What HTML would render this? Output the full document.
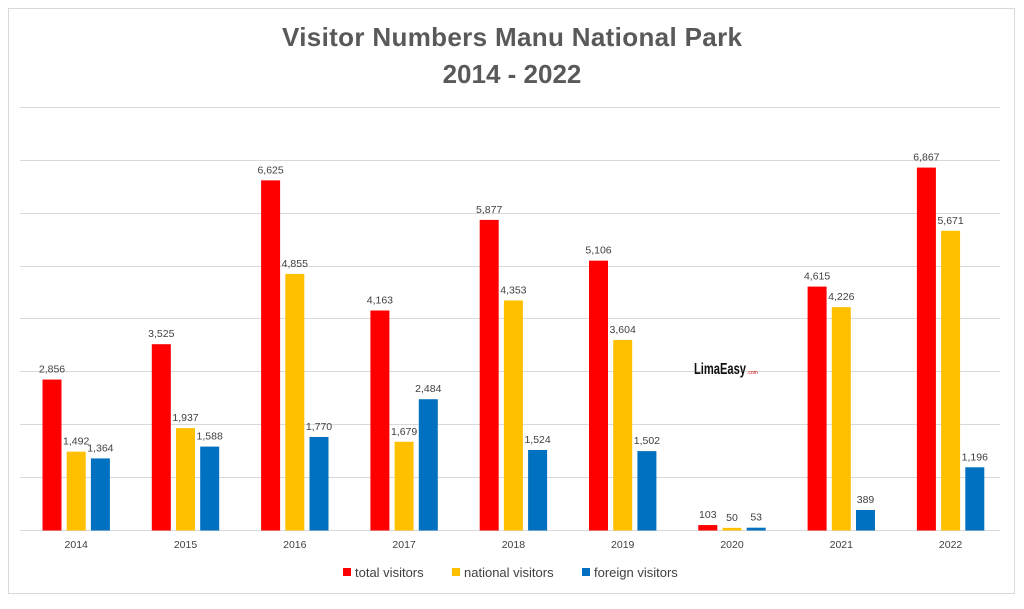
<!DOCTYPE html><html><head><style>body{margin:0;background:#fff}</style></head><body>
<svg width="1024" height="604" xmlns="http://www.w3.org/2000/svg" font-family="Liberation Sans, sans-serif">
<rect x="8.5" y="8.5" width="1006" height="585" fill="#fff" stroke="#d9d9d9"/>
<text x="512" y="46" text-anchor="middle" font-size="26" font-weight="bold" fill="#595959" textLength="460">Visitor Numbers Manu National Park</text>
<text x="512" y="83" text-anchor="middle" font-size="26" font-weight="bold" fill="#595959">2014 - 2022</text>
<g stroke="#d9d9d9" stroke-width="1">
<line x1="20" x2="1000" y1="107.5" y2="107.5"/><line x1="20" x2="1000" y1="160.5" y2="160.5"/><line x1="20" x2="1000" y1="213.5" y2="213.5"/><line x1="20" x2="1000" y1="266.5" y2="266.5"/><line x1="20" x2="1000" y1="318.5" y2="318.5"/><line x1="20" x2="1000" y1="371.5" y2="371.5"/><line x1="20" x2="1000" y1="424.5" y2="424.5"/><line x1="20" x2="1000" y1="477.5" y2="477.5"/><line x1="20" x2="1000" y1="530.5" y2="530.5"/>
</g>
<g id="bars" font-size="10.5" fill="#404040" text-anchor="middle"></g>
<text x="694" y="374" font-size="16" font-weight="bold" fill="#111" textLength="52" lengthAdjust="spacingAndGlyphs">LimaEasy</text>
<text x="747" y="374" font-size="5" fill="#c00">.com</text>
<g font-size="13" fill="#404040">
<rect x="343" y="568" width="8" height="8" fill="#ff0000"/><text x="355" y="577">total visitors</text>
<rect x="452" y="568" width="8" height="8" fill="#ffc000"/><text x="464" y="577">national visitors</text>
<rect x="582" y="568" width="8" height="8" fill="#0070c0"/><text x="594" y="577">foreign visitors</text>
</g>
</svg>
<script>
var d=[[2014,2856,1492,1364],[2015,3525,1937,1588],[2016,6625,4855,1770],[2017,4163,1679,2484],[2018,5877,4353,1524],[2019,5106,3604,1502],[2020,103,50,53],[2021,4615,4226,389],[2022,6867,5671,1196]];
var c=["#ff0000","#ffc000","#0070c0"],s="",k=0.05285;
d.forEach(function(r,i){var x0=42.5+i*109.3;
for(var j=0;j<3;j++){var h=r[j+1]*k,x=x0+j*24.2,y=530.5-h;
s+='<rect x="'+x+'" y="'+y+'" width="19" height="'+h+'" fill="'+c[j]+'"/>';
s+='<text x="'+(x+9.5)+'" y="'+(y-7)+'">'+r[j+1].toLocaleString("en-US")+'</text>';}
s+='<text x="'+(x0+33.7)+'" y="548">'+r[0]+'</text>';});
document.getElementById("bars").innerHTML=s;
</script>
</body></html>
